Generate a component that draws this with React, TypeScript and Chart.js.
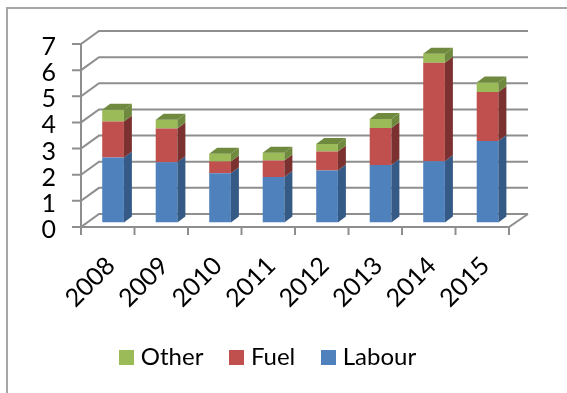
import React, { useEffect, useRef } from "react";
import { Chart, registerables } from "chart.js";

Chart.register(...registerables);

const years = ["2008", "2009", "2010", "2011", "2012", "2013", "2014", "2015"];
const labour = [2.49, 2.31, 1.89, 1.74, 1.99, 2.2, 2.35, 3.12];
const fuel = [1.38, 1.29, 0.45, 0.64, 0.73, 1.42, 3.76, 1.88];
const other = [0.45, 0.33, 0.29, 0.29, 0.29, 0.34, 0.35, 0.36];

const seriesColors = { labour: "#4F81BD", fuel: "#C0504D", other: "#9BBB59" };
const sideColors = { labour: "#355A85", fuel: "#7A312F", other: "#6F8A3F" };

const GRID = "#8E8E8E";
const FONT = "Lato";
const WALL = { dx: 18, dy: -13 };
const BAR_SHIFT = { dx: 5.3, dy: -4.4 };
const BAR_DEPTH = { dx: 8, dy: -6 };

function swatch(color: string) {
  const c = document.createElement("canvas");
  c.width = 15;
  c.height = 15;
  const g = c.getContext("2d")!;
  g.fillStyle = color;
  g.fillRect(0, 0, 15, 15);
  return c;
}

const scene = {
  id: "scene",
  beforeDraw(chart: any) {
    const { ctx, width, height } = chart;
    ctx.save();
    ctx.fillStyle = "#fff";
    ctx.fillRect(0, 0, width, height);
    ctx.strokeStyle = "#A6A6A6";
    ctx.lineWidth = 2;
    ctx.beginPath();
    ctx.moveTo(7, height);
    ctx.lineTo(7, 8);
    ctx.lineTo(width, 8);
    ctx.stroke();
    ctx.restore();
  },
  afterLayout(chart: any) {
    const lg = chart.legend;
    lg.left = 0;
    lg.right = 541;
    lg.top = 314;
    lg.bottom = 380;
    lg.adjustHitBoxes && lg.adjustHitBoxes();
  },
  beforeDatasetsDraw(chart: any) {
    const { ctx, chartArea: a, scales } = chart;
    const x0 = a.left;
    const xr = a.right;
    ctx.save();
    ctx.strokeStyle = GRID;
    ctx.lineWidth = 2;
    ctx.lineCap = "butt";
    scales.y.ticks.forEach((t: any) => {
      const y = scales.y.getPixelForValue(t.value);
      ctx.beginPath();
      ctx.moveTo(x0 - 9, y);
      ctx.lineTo(x0, y);
      ctx.lineTo(x0 + WALL.dx, y + WALL.dy);
      ctx.lineTo(xr + WALL.dx + 1, y + WALL.dy);
      ctx.stroke();
    });
    const yb = a.bottom;
    ctx.beginPath();
    ctx.moveTo(x0, a.top);
    ctx.lineTo(x0, yb + 3);
    ctx.moveTo(x0, yb);
    ctx.lineTo(xr, yb);
    ctx.lineTo(xr + WALL.dx + 1, yb + WALL.dy);
    ctx.stroke();
    for (let i = 0; i <= years.length; i++) {
      const x = x0 + ((xr - x0) * i) / years.length;
      ctx.beginPath();
      ctx.moveTo(x, yb);
      ctx.lineTo(x, yb + 8);
      ctx.stroke();
    }
    ctx.restore();
    ctx.save();
    ctx.translate(BAR_SHIFT.dx, BAR_SHIFT.dy);
  },
  afterDatasetsDraw(chart: any) {
    const { ctx, data } = chart;
    const last = data.datasets.length - 1;
    data.datasets.forEach((ds: any, i: number) => {
      chart.getDatasetMeta(i).data.forEach((bar: any) => {
        const l = bar.x - bar.width / 2;
        const r = bar.x + bar.width / 2;
        const t = bar.y;
        const b = bar.base;
        ctx.fillStyle = ds.sideColor;
        ctx.beginPath();
        ctx.moveTo(r, b);
        ctx.lineTo(r + BAR_DEPTH.dx, b + BAR_DEPTH.dy);
        ctx.lineTo(r + BAR_DEPTH.dx, t + BAR_DEPTH.dy);
        ctx.lineTo(r, t);
        ctx.closePath();
        ctx.fill();
        if (i === last) {
          ctx.beginPath();
          ctx.moveTo(l, t);
          ctx.lineTo(l + BAR_DEPTH.dx, t + BAR_DEPTH.dy);
          ctx.lineTo(r + BAR_DEPTH.dx, t + BAR_DEPTH.dy);
          ctx.lineTo(r, t);
          ctx.closePath();
          ctx.fill();
        }
      });
    });
    ctx.restore();
  },
};

export default function App() {
  const ref = useRef<HTMLCanvasElement>(null);
  useEffect(() => {
    const chart = new Chart(ref.current!, {
      type: "bar",
      data: {
        labels: years,
        datasets: [
          { label: "Labour", data: labour, backgroundColor: seriesColors.labour, sideColor: sideColors.labour } as any,
          { label: "Fuel", data: fuel, backgroundColor: seriesColors.fuel, sideColor: sideColors.fuel } as any,
          { label: "Other", data: other, backgroundColor: seriesColors.other, sideColor: sideColors.other } as any,
        ],
      },
      options: {
        responsive: false,
        animation: false,
        categoryPercentage: 1,
        barPercentage: 0.405,
        layout: { autoPadding: false, padding: { top: 44, right: 58, left: 0, bottom: 0 } },
        scales: {
          x: {
            stacked: true,
            grid: { display: false, drawTicks: false },
            border: { display: false },
            ticks: {
              color: "#000",
              font: { family: FONT, size: 25 },
              maxRotation: 45,
              minRotation: 45,
              autoSkip: false,
              padding: 24,
              labelOffset: 3,
            },
            afterFit(s: any) {
              s.height = 100.5;
            },
          },
          y: {
            stacked: true,
            min: 0,
            max: 7,
            grid: { display: false, drawTicks: false },
            border: { display: false },
            ticks: {
              stepSize: 1,
              autoSkip: false,
              color: "#000",
              font: { family: FONT, size: 25 },
              padding: 25,
              labelOffset: 3,
            },
            afterFit(s: any) {
              s.width = 81;
            },
          },
        },
        plugins: {
          tooltip: { enabled: false },
          legend: {
            display: true,
            position: "bottom",
            fullSize: false,
            labels: {
              color: "#000",
              font: { family: FONT, size: 24 },
              usePointStyle: true,
              pointStyleWidth: 4,
              padding: 31.5,
              generateLabels(chart: any) {
                return chart.data.datasets
                  .map((ds: any, i: number) => ({
                    text: ds.label,
                    datasetIndex: i,
                    pointStyle: swatch(ds.backgroundColor),
                    fillStyle: ds.backgroundColor,
                    strokeStyle: ds.backgroundColor,
                    lineWidth: 0,
                    fontColor: "#000",
                  }))
                  .reverse();
              },
            },
          },
        },
      },
      plugins: [scene],
    } as any);
    return () => chart.destroy();
  }, []);
  return (
    <div style={{ position: "fixed", left: 0, top: 0, width: 567, height: 393 }}>
      <canvas ref={ref} width={567} height={393} style={{ display: "block" }} />
    </div>
  );
}
